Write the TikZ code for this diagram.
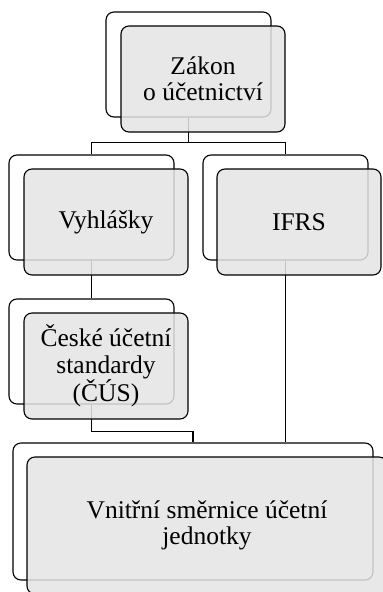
\documentclass[tikz,border=0pt]{standalone}
\usepackage{fontspec}
\setmainfont{Liberation Serif}
\definecolor{boxgray}{HTML}{E4E4E4}
\begin{document}
\begin{tikzpicture}[x=1pt, y=-1pt]
\useasboundingbox (0,0) rectangle (383,592);
\clip (0,0) rectangle (383,592);
% back boxes
\begin{scope}[every node/.style = {draw, line width=1.1pt, rounded corners=8pt, fill=white, inner sep=0pt, minimum width=165pt, minimum height=105pt}]
\node (zakonB) at (188.5, 64.5) {};
\node (vyhlB) at (91.5, 207.5) {};
\node (ifrsB) at (285.5, 207.5) {};
\node (cusB) at (91.5, 351.5) {};
\node[minimum width=360pt, minimum height=137pt] (smerB) at (193, 511.5) {};
\end{scope}
% connectors
\begin{scope}[every path/.style = {draw, line width=1.1pt}]
\path (zakonB.south) -- ++(0,25) -| (vyhlB.north);
\path (zakonB.south) -- ++(0,25) -| (ifrsB.north);
\path (vyhlB.south) -- (cusB.north);
\path (cusB.south) -- ++(0,27) -| (smerB.north);
\path (ifrsB.south) -- (ifrsB.south |- smerB.north);
\end{scope}
% front boxes
\begin{scope}[every node/.style = {draw, line width=1.1pt, rounded corners=8pt, fill=boxgray, fill opacity=0.85, text opacity=1, inner sep=0pt, minimum width=164pt, minimum height=106pt, align=center, font=\fontsize{25.5}{26.5}\selectfont}]
\node (zakon) at (203, 79) {Zákon\\o účetnictví};
\node (vyhl) at (106, 222) {Vyhlášky};
\node (ifrs) at (299, 222) {IFRS};
\node (cus) at (106, 366) {České účetní\\standardy\\(ČÚS)};
\node[minimum width=360pt, minimum height=137pt] (smer) at (207, 525.5) {Vnitřní směrnice účetní\\jednotky};
\end{scope}
\end{tikzpicture}
\end{document}
